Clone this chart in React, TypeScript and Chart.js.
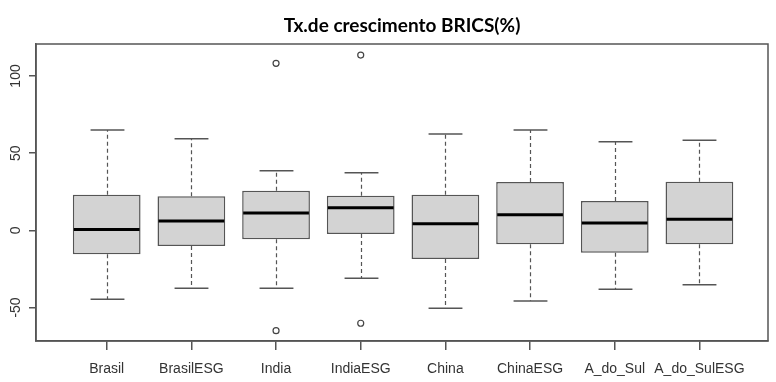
import React, { useEffect, useRef } from 'react';
import { Chart, registerables } from 'chart.js';

Chart.register(...registerables);

const categories = ['Brasil', 'BrasilESG', 'India', 'IndiaESG', 'China', 'ChinaESG', 'A_do_Sul', 'A_do_SulESG'];
const lowerWhisker = [-44.7, -37.6, -37.6, -31.1, -50.5, -45.8, -38.2, -35.2];
const q1 = [-15.5, -10.2, -5.8, -2.4, -18.6, -9.1, -14.5, -9.1];
const median = [0.6, 6.0, 11.2, 14.6, 4.3, 10.1, 4.7, 7.1];
const q3 = [23.1, 22.0, 25.6, 22.4, 23.1, 31.3, 19.0, 31.5];
const upperWhisker = [65.0, 59.3, 38.6, 37.3, 62.4, 65.0, 57.4, 58.3];
const outlierGroup = [3, 3, 4, 4];
const outlierValue = [108.2, -65.0, 113.5, -60.2];
const yTicks = [-50, 0, 50, 100];
const chartTitle = 'Tx.de crescimento BRICS(%)';

const FRAME = '#555555';
const TEXT = '#333333';

const boxPlugin = {
  id: 'rBoxplot',
  beforeDatasetsDraw(chart: any) {
    const { ctx, scales } = chart;
    const x = scales.x;
    const y = scales.y;
    const unit = x.getPixelForValue(1) - x.getPixelForValue(0);
    const capHalf = unit * 0.2;
    ctx.save();
    ctx.strokeStyle = FRAME;
    categories.forEach((_, i) => {
      const cx = Math.round(x.getPixelForValue(i + 1)) + 0.5;
      const yUp = y.getPixelForValue(upperWhisker[i]);
      const yLo = y.getPixelForValue(lowerWhisker[i]);
      ctx.lineWidth = 1.2;
      ctx.setLineDash([4, 3]);
      ctx.beginPath();
      ctx.moveTo(cx, y.getPixelForValue(q3[i]));
      ctx.lineTo(cx, yUp);
      ctx.moveTo(cx, y.getPixelForValue(q1[i]));
      ctx.lineTo(cx, yLo);
      ctx.stroke();
      ctx.setLineDash([]);
      ctx.lineWidth = 1.5;
      ctx.beginPath();
      ctx.moveTo(cx - capHalf, yUp);
      ctx.lineTo(cx + capHalf, yUp);
      ctx.moveTo(cx - capHalf, yLo);
      ctx.lineTo(cx + capHalf, yLo);
      ctx.stroke();
    });
    ctx.restore();
  },
  afterDatasetsDraw(chart: any) {
    const { ctx, scales, chartArea } = chart;
    const x = scales.x;
    const y = scales.y;
    const unit = x.getPixelForValue(1) - x.getPixelForValue(0);
    const half = unit * 0.4;
    ctx.save();
    ctx.strokeStyle = '#000000';
    ctx.lineWidth = 3;
    categories.forEach((_, i) => {
      const cx = x.getPixelForValue(i + 1);
      const ym = y.getPixelForValue(median[i]);
      ctx.beginPath();
      ctx.moveTo(cx - half + 1, ym);
      ctx.lineTo(cx + half - 1, ym);
      ctx.stroke();
    });
    ctx.strokeStyle = FRAME;
    ctx.lineWidth = 1.5;
    ctx.strokeRect(chartArea.left, chartArea.top, chartArea.right - chartArea.left, chartArea.bottom - chartArea.top);
    ctx.fillStyle = '#000000';
    ctx.font = 'bold 19px Lato';
    ctx.textAlign = 'center';
    ctx.textBaseline = 'alphabetic';
    ctx.fillText(chartTitle, (chartArea.left + chartArea.right) / 2, 31.5);
    ctx.restore();
  },
};

export default function App() {
  const ref = useRef<HTMLCanvasElement | null>(null);

  useEffect(() => {
    const canvas = ref.current;
    if (!canvas) return;
    const chart = new Chart(canvas, {
      type: 'bar',
      data: {
        datasets: [
          {
            type: 'bar',
            data: categories.map((_, i) => ({ x: i + 1, y: [q1[i], q3[i]] })) as any,
            backgroundColor: '#d3d3d3',
            borderColor: FRAME,
            borderWidth: 1.5,
            borderSkipped: false,
            barPercentage: 0.8,
            categoryPercentage: 1,
          } as any,
          {
            type: 'scatter',
            data: outlierGroup.map((g, i) => ({ x: g, y: outlierValue[i] })),
            pointRadius: 3,
            pointStyle: 'circle',
            backgroundColor: 'rgba(255,255,255,0)',
            borderColor: '#444444',
            borderWidth: 1.2,
          } as any,
        ],
      },
      options: {
        animation: false,
        responsive: false,
        devicePixelRatio: 1,
        layout: { padding: { top: 44, right: 8, left: 0, bottom: 0 } },
        plugins: {
          legend: { display: false },
          tooltip: { enabled: false },
          title: { display: false },
        },
        scales: {
          x: {
            type: 'linear',
            offset: false,
            min: 0.165,
            max: 8.81,
            afterBuildTicks: (s: any) => {
              s.ticks = categories.map((_, i) => ({ value: i + 1 }));
            },
            afterFit: (s: any) => {
              s.height = 41;
            },
            ticks: {
              autoSkip: false,
              maxRotation: 0,
              minRotation: 0,
              padding: 11,
              color: TEXT,
              font: { family: 'Liberation Sans', size: 14 },
              callback: (v: any) => categories[Number(v) - 1] ?? '',
            },
            grid: { offset: false, drawOnChartArea: false, drawTicks: true, tickLength: 9, color: FRAME, lineWidth: 1.5 },
            border: { display: true, color: FRAME, width: 1.5 },
          },
          y: {
            type: 'linear',
            min: -71.7,
            max: 120.7,
            afterBuildTicks: (s: any) => {
              s.ticks = yTicks.map((v) => ({ value: v }));
            },
            afterFit: (s: any) => {
              s.width = 36;
            },
            ticks: {
              minRotation: 90,
              maxRotation: 90,
              crossAlign: 'center',
              padding: 1,
              color: TEXT,
              font: { family: 'Liberation Sans', size: 14 },
              callback: (v: any) => String(v),
            },
            grid: { drawOnChartArea: false, drawTicks: true, tickLength: 7, color: FRAME, lineWidth: 1.5 },
            border: { display: true, color: FRAME, width: 1.5 },
          },
        },
      },
      plugins: [boxPlugin],
    } as any);
    return () => chart.destroy();
  }, []);

  return (
    <div style={{ position: 'fixed', left: 0, top: 0, width: 776, height: 382, background: '#ffffff' }}>
      <canvas ref={ref} width={776} height={382} style={{ display: 'block', width: 776, height: 382 }} />
    </div>
  );
}
